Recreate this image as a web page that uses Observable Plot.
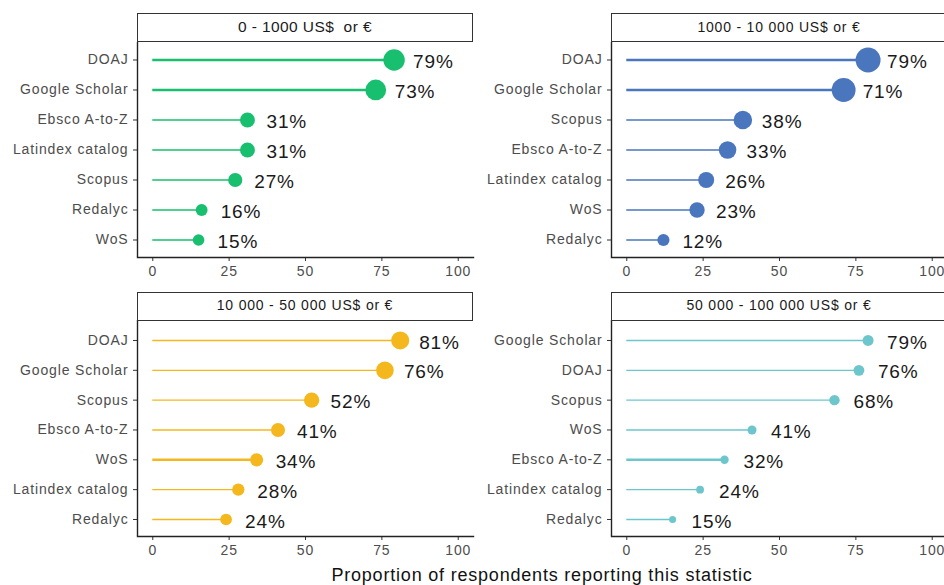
<!DOCTYPE html>
<html>
<head>
<meta charset="utf-8">
<script src="https://cdn.jsdelivr.net/npm/d3@7"></script>
<script src="https://cdn.jsdelivr.net/npm/@observablehq/plot@0.6"></script>
<style>
  html, body { margin: 0; padding: 0; background: #fff; }
  #chart { position: relative; width: 944px; height: 585px; overflow: hidden; background: #fff;
           font-family: "Liberation Sans", Arial, sans-serif; }
  .strip { position: absolute; box-sizing: border-box; border: 1.4px solid #333; background: #fff;
           text-align: center; color: #1a1a1a; white-space: pre; }
  .panel { position: absolute; }
  .xtitle { position: absolute; text-align: center; font-size: 18px; line-height: 18px;
            letter-spacing: 0.8px; color: #111; }
</style>
</head>
<body>
<div id="chart"></div>
<script>
// ---- data ----
const panelTitles = ["0 - 1000 US$  or €", "1000 - 10 000 US$ or €", "10 000 - 50 000 US$ or €", "50 000 - 100 000 US$ or €"];

const sources1 = ["DOAJ", "Google Scholar", "Ebsco A-to-Z", "Latindex catalog", "Scopus", "Redalyc", "WoS"];
const values1  = [79, 73, 31, 31, 27, 16, 15];

const sources2 = ["DOAJ", "Google Scholar", "Scopus", "Ebsco A-to-Z", "Latindex catalog", "WoS", "Redalyc"];
const values2  = [79, 71, 38, 33, 26, 23, 12];

const sources3 = ["DOAJ", "Google Scholar", "Scopus", "Ebsco A-to-Z", "WoS", "Latindex catalog", "Redalyc"];
const values3  = [81, 76, 52, 41, 34, 28, 24];

const sources4 = ["Google Scholar", "DOAJ", "Scopus", "WoS", "Ebsco A-to-Z", "Latindex catalog", "Redalyc"];
const values4  = [79, 76, 68, 41, 32, 24, 15];

// estimated number of respondents per budget group (drives dot size)
const respondentsPerGroup = [69, 100, 44, 11];
// sources drawn with a heavier line in the original
const heavierLines = [["DOAJ", "Google Scholar"], ["DOAJ", "Google Scholar"], ["WoS"], ["Ebsco A-to-Z"]];
const panelColors = ["#17bf6f", "#4a76bd", "#f4b71d", "#6cc6cc"];
const xTicks = [0, 25, 50, 75, 100];
const xTitle = "Proportion of respondents reporting this statistic";

const allSources = [sources1, sources2, sources3, sources4];
const allValues = [values1, values2, values3, values4];

// ---- layout ----
const layout = [
  {left: 0,   top: 42,  h: 215, stripTop: 13,  stripH: 29,   pad: 0.583, align: 0.5,  stripFont: 15.5, stripLS: 0.4},
  {left: 474, top: 42,  h: 215, stripTop: 13,  stripH: 29,   pad: 0.583, align: 0.5,  stripFont: 14,   stripLS: 0.8},
  {left: 0,   top: 320, h: 216, stripTop: 292, stripH: 28.5, pad: 0.62,  align: 0.54, stripFont: 14,   stripLS: 0.8},
  {left: 474, top: 320, h: 216, stripTop: 292, stripH: 28.5, pad: 0.62,  align: 0.54, stripFont: 14,   stripLS: 0.8}
];
const ML = 137, PW = 336, MB = 30;

const chart = document.getElementById("chart");

function makePanel(i) {
  const L = layout[i];
  const data = allSources[i].map((s, j) => ({
    source: s,
    value: allValues[i][j],
    count: allValues[i][j] * respondentsPerGroup[i] / 100,
    heavy: heavierLines[i].includes(s)
  }));
  const col = panelColors[i];
  const svg = Plot.plot({
    width: ML + PW,
    height: L.h + MB,
    marginLeft: ML, marginRight: 0, marginTop: 0, marginBottom: MB,
    x: {domain: [-5, 105]},
    y: {type: "point", domain: allSources[i], padding: L.pad, align: L.align, round: false},
    r: {type: "sqrt", domain: [0, 100], range: [2, 13.8]},
    style: {fontFamily: "'Liberation Sans', Arial, sans-serif", fontSize: "14px",
            letterSpacing: "0.85px", background: "transparent", overflow: "visible"},
    marks: [
      Plot.ruleY(data, {y: "source", x1: 0, x2: "value", stroke: col,
                        strokeWidth: d => d.heavy ? 2.6 : 1.3}),
      Plot.dot(data, {x: "value", y: "source", r: "count", fill: col, stroke: null}),
      Plot.text(data, {x: "value", y: "source", text: d => d.value + "%", dx: 19, dy: 2,
                       textAnchor: "start", fontSize: 19, fill: "#1a1a1a"}),
      Plot.axisY({tickSize: 4, tickPadding: 5, fontSize: 14, fill: "#4d4d4d", stroke: "#333", label: null}),
      Plot.axisX({ticks: xTicks, tickSize: 4, tickPadding: 5, fontSize: 14, fill: "#4d4d4d", stroke: "#333", label: null}),
      Plot.ruleX([-5], {stroke: "#222", strokeWidth: 1.4}),
      Plot.frame({anchor: "bottom", stroke: "#222", strokeWidth: 1.4})
    ]
  });
  svg.classList.add("panel");
  svg.style.left = L.left + "px";
  svg.style.top = L.top + "px";
  chart.appendChild(svg);

  const strip = document.createElement("div");
  strip.className = "strip";
  strip.style.left = (L.left + ML) + "px";
  strip.style.top = L.stripTop + "px";
  strip.style.width = PW + "px";
  strip.style.height = L.stripH + "px";
  strip.style.lineHeight = (L.stripH - 2.8) + "px";
  strip.style.fontSize = L.stripFont + "px";
  strip.style.letterSpacing = L.stripLS + "px";
  strip.textContent = panelTitles[i];
  chart.appendChild(strip);
}

for (let i = 0; i < 4; i++) makePanel(i);

const t = document.createElement("div");
t.className = "xtitle";
t.style.left = "242px";
t.style.width = "600px";
t.style.top = "565.5px";
t.textContent = xTitle;
chart.appendChild(t);
</script>
</body>
</html>
